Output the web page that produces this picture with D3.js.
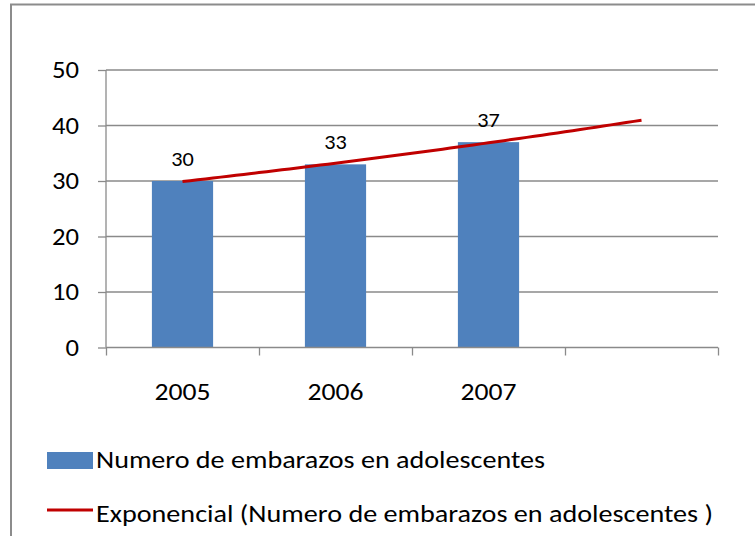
<!DOCTYPE html>
<html><head><meta charset="utf-8">
<script src="https://cdn.jsdelivr.net/npm/d3@7"></script>
<style>body{margin:0;background:#fff}svg{display:block}text{font-family:Carlito,Calibri,Lato,"Open Sans",sans-serif;fill:#000}</style>
</head><body><svg id="c" width="755" height="536"></svg>
<script>
const categories = ["2005","2006","2007",""];
const values = [30,33,37];
const yTicks = [0,10,20,30,40,50];
const seriesName = "Numero de embarazos en adolescentes";
const trendName = "Exponencial (Numero de embarazos en adolescentes )";

const svg = d3.select("#c");
const L=106,R=718,T=70,B=347.5;
// frame
svg.append("rect").attr("x",11).attr("y",4.5).attr("width",800).attr("height",600)
  .attr("fill","none").attr("stroke","#8c8c8c").attr("stroke-width",2);

const x = d3.scaleBand().domain(categories.map((c,i)=>i)).range([L,R]).paddingInner(0).paddingOuter(0);
const y = d3.scaleLinear().domain([0,50]).range([B,T]);

function fitW(sel,wPerChar){ sel.each(function(){ const t=this.textContent; if(t.length){ d3.select(this).attr("textLength",t.length*wPerChar).attr("lengthAdjust","spacingAndGlyphs"); } }); }

// gridlines
svg.append("g").selectAll("line").data(yTicks.filter(t=>t>0)).join("line")
  .attr("x1",L).attr("x2",R).attr("y1",d=>y(d)).attr("y2",d=>y(d))
  .attr("stroke","#8a8a8a").attr("stroke-width",1.3);

// bars
const bw = x.bandwidth()/2.5;
svg.append("g").selectAll("rect").data(values).join("rect")
  .attr("x",(d,i)=>x(i)+x.bandwidth()/2-bw/2).attr("width",bw)
  .attr("y",d=>y(d)).attr("height",d=>B-y(d)).attr("fill","#4F81BD");

// y axis
const ya = d3.axisLeft(y).tickValues(yTicks).tickSize(8).tickPadding(19);
const gy = svg.append("g").attr("transform",`translate(${L},0)`).call(ya);
gy.select(".domain").attr("stroke","#8a8a8a").attr("stroke-width",1.3).attr("d",`M0,${B}V${T}`);
gy.selectAll(".tick line").attr("stroke","#8a8a8a").attr("stroke-width",1.3);
gy.selectAll(".tick text").style("font-size","24px").style("font-weight","300").attr("fill","#000").call(fitW,13.5);

// x axis
const xa = d3.axisBottom(d3.scaleLinear().domain([0,4]).range([L,R])).tickValues([0,1,2,3,4]).tickSize(8).tickFormat("");
const gx = svg.append("g").attr("transform",`translate(0,${B})`).call(xa);
gx.select(".domain").attr("stroke","#8a8a8a").attr("stroke-width",1.3).attr("d",`M${L},0H${R}`);
gx.selectAll(".tick line").attr("stroke","#8a8a8a").attr("stroke-width",1.3);
svg.append("g").selectAll("text").data(categories).join("text")
  .attr("x",(d,i)=>x(i)+x.bandwidth()/2).attr("y",400).attr("text-anchor","middle")
  .style("font-size","25px").style("font-weight","300").text(d=>d).call(fitW,14);

// exponential trendline (least squares on ln y)
const xs=values.map((d,i)=>i+1), ls=values.map(Math.log);
const mx=d3.mean(xs), ml=d3.mean(ls);
const b=d3.sum(xs.map((v,i)=>(v-mx)*(ls[i]-ml)))/d3.sum(xs.map(v=>(v-mx)**2));
const a=ml-b*mx;
const xt=d3.scaleLinear().domain([1,4]).range([x(0)+x.bandwidth()/2,x(3)+x.bandwidth()/2]);
const pts=d3.range(1,4.001,0.05).map(t=>[xt(t),y(Math.exp(a+b*t))]);
svg.append("path").attr("d",d3.line()(pts)).attr("fill","none").attr("stroke","#C00000").attr("stroke-width",3);

// data labels
svg.append("g").selectAll("text").data(values).join("text")
  .attr("x",(d,i)=>x(i)+x.bandwidth()/2).attr("y",d=>y(d)-15.5).attr("text-anchor","middle")
  .style("font-size","20px").style("font-weight","300").text(d=>d).call(fitW,11.3);

// legend
svg.append("rect").attr("x",47).attr("y",452).attr("width",46).attr("height",17).attr("fill","#4F81BD");
svg.append("text").attr("x",96).attr("y",468).style("font-size","23.5px").style("font-weight","300").text(seriesName)
  .attr("textLength",449).attr("lengthAdjust","spacingAndGlyphs");
svg.append("line").attr("x1",47).attr("x2",93).attr("y1",510).attr("y2",510).attr("stroke","#C00000").attr("stroke-width",3);
svg.append("text").attr("x",96).attr("y",522).style("font-size","23.5px").style("font-weight","300").text(trendName)
  .attr("textLength",617).attr("lengthAdjust","spacingAndGlyphs");
</script></body></html>
